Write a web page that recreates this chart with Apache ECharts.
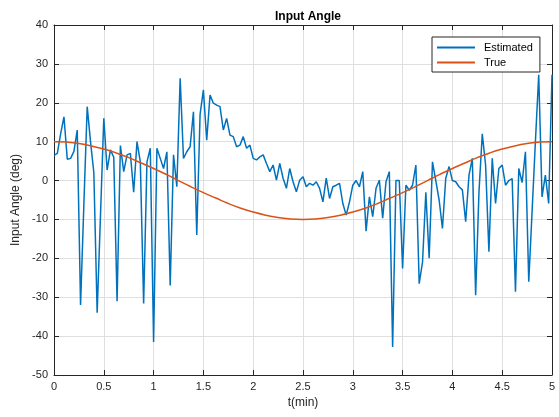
<!DOCTYPE html>
<html>
<head>
<meta charset="utf-8">
<script src="https://cdn.jsdelivr.net/npm/echarts@6/dist/echarts.min.js"></script>
<style>
  html, body { margin: 0; padding: 0; background: #fff; }
  #app { width: 559px; height: 417px; }
</style>
</head>
<body>
<div id="app"></div>
<script>
// estimated angle, one sample every 2 s (1/30 min) from 0 to 5 min
const estimated = [
  6.5, 7, 12, 16.4, 5.5, 5.7, 7.5, 13, -32, -6,
  19, 10, 2, -34, -9, 16, 2.7, 7.9, 6, -31,
  9, 2.3, 6.6, 7, -3, 10, 4.8, -31.6, 4.8, 8.3,
  -41.5, 8.3, 5.7, 3.1, 7.4, -27, 6.6, -1.6, 26.3, 5.7,
  7.4, 8.7, 17.7, -14, 17, 23.3, 10.4, 22, 19.9, 19.4,
  19, 13, 16, 11.7, 11.3, 8.7, 9.1, 11.3, 8.3, 9.1,
  5.7, 5.3, 6.1, 6.6, 4.4, 2.3, 4, 0.1, 4.4, 0.6,
  -2, 3.1, -0.3, -2.9, 0.1, 1, -1.6, -0.7, -1.2, -0.3,
  -2, -5.5, 0.6, -4.6, -1.6, -1.2, -0.7, -5.9, -8.9, -5.5,
  -1.2, 0, -1.6, 2.3, -13, -4.2, -9.3, -2, 0.1, -9.7,
  -0.3, 2.3, -42.8, 0, 0, -22.6, -1.2, -2.5, -1.2, 4,
  -26.5, -21, -3, -20, 4.8, 0, -5, -12.3, 0.6, 3.6,
  0, -0.3, -1.6, -2.4, -10.6, 1.4, 5.7, -29.5, -3, 12,
  4, -18.3, 5.7, -5.9, 3.1, 4, -1.2, 0, 0.5, -28.6,
  3.1, -0.5, 7.4, -26, -8, 10, 27.2, -4.2, 1.4, -5.9,
  27.2
];
const estTimes = estimated.map((_, i) => i / 30);

// true angle, read every 0.125 min
const trueCurve = [10, 9.9, 9.5, 8.9, 8.1, 7.1, 5.9, 4.5, 3.1, 1.6, 0,
  -1.6, -3.1, -4.5, -5.9, -7.1, -8.1, -8.9, -9.5, -9.9, -10,
  -9.9, -9.5, -8.9, -8.1, -7.1, -5.9, -4.5, -3.1, -1.6, 0,
  1.6, 3.1, 4.5, 5.9, 7.1, 8.1, 8.9, 9.5, 9.9, 10];
const trueT = trueCurve.map((_, i) => i / 8);

const axisColor = "#262626";
const fontFamily = "Liberation Sans, Arial, sans-serif";

const myChart = echarts.init(document.getElementById("app"));

const boxAxis = {
  axisLine: { show: true, onZero: false, lineStyle: { color: axisColor, width: 1 } },
  axisTick: { show: true, inside: true, length: 5, lineStyle: { color: axisColor } },
  axisLabel: { show: false },
  splitLine: { show: false }
};

myChart.setOption({
  animation: false,
  title: {
    text: "Input Angle",
    left: 303,
    top: 6,
    textAlign: "center",
    textStyle: { fontFamily, fontSize: 12, fontWeight: "bold", color: "#000" }
  },
  legend: {
    data: ["Estimated", "True"],
    orient: "vertical",
    left: 432,
    top: 37,
    padding: [4, 7, 3, 5],
    icon: "rect",
    itemWidth: 38,
    itemHeight: 2,
    itemGap: 2,
    borderColor: axisColor,
    borderWidth: 1,
    borderRadius: 0,
    backgroundColor: "#fff",
    textStyle: { fontFamily, fontSize: 11, color: "#000", lineHeight: 13, padding: [0, 0, 0, 4] }
  },
  grid: { left: 54, right: 7, top: 25, bottom: 42 },
  xAxis: [
    {
      type: "value",
      min: 0,
      max: 5,
      interval: 0.5,
      name: "t(min)",
      nameLocation: "middle",
      nameGap: 20,
      nameTextStyle: { fontFamily, fontSize: 12, color: axisColor },
      axisLine: { onZero: false, lineStyle: { color: axisColor, width: 1 } },
      axisTick: { inside: true, length: 5, lineStyle: { color: axisColor } },
      axisLabel: { fontFamily, fontSize: 11, color: axisColor, margin: 6 },
      splitLine: { show: true, lineStyle: { color: "#dfdfdf", width: 1 } }
    },
    Object.assign({ type: "value", position: "top", min: 0, max: 5, interval: 0.5 }, boxAxis)
  ],
  yAxis: [
    {
      type: "value",
      min: -50,
      max: 40,
      interval: 10,
      name: "Input Angle (deg)",
      nameLocation: "middle",
      nameGap: 29,
      nameTextStyle: { fontFamily, fontSize: 12, color: axisColor },
      axisLine: { onZero: false, lineStyle: { color: axisColor, width: 1 } },
      axisTick: { inside: true, length: 5, lineStyle: { color: axisColor } },
      axisLabel: { fontFamily, fontSize: 11, color: axisColor, margin: 6 },
      splitLine: { show: true, lineStyle: { color: "#dfdfdf", width: 1 } }
    },
    Object.assign({ type: "value", position: "right", min: -50, max: 40, interval: 10 }, boxAxis)
  ],
  series: [
    {
      name: "Estimated",
      type: "line",
      symbol: "none",
      color: "#0072BD",
      lineStyle: { width: 1.5 },
      data: estTimes.map((t, i) => [t, estimated[i]])
    },
    {
      name: "True",
      type: "line",
      symbol: "none",
      smooth: true,
      color: "#D95319",
      lineStyle: { width: 1.5 },
      data: trueT.map((t, i) => [t, trueCurve[i]])
    }
  ]
});
</script>
</body>
</html>
